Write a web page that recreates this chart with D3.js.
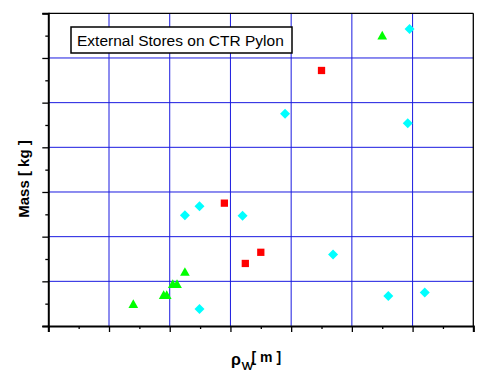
<!DOCTYPE html>
<html><head><meta charset="utf-8">
<script src="https://cdn.jsdelivr.net/npm/d3@7"></script>
<style>body{margin:0;background:#fff}svg{display:block}text{font-family:Arial,"Liberation Sans",sans-serif}</style>
</head><body>
<svg id="chart" width="478" height="371"></svg>
<script>
// Data (arbitrary axis units; axes carry no numeric labels)
const triX = [1.40, 1.90, 1.95, 2.05, 2.12, 2.25, 5.50];
const triY = [0.50, 0.70, 0.70, 0.95, 0.95, 1.22, 6.51];
const sqX = [4.50, 2.90, 3.50, 3.245];
const sqY = [5.72, 2.75, 1.65, 1.40];
const diaX = [5.95, 3.90, 5.92, 2.25, 2.49, 3.20, 2.49, 4.69, 5.60, 6.20];
const diaY = [6.65, 4.75, 4.54, 2.48, 2.68, 2.47, 0.38, 1.60, 0.67, 0.75];
const majorTicks = [0, 1, 2, 3, 4, 5, 6, 7];
const minorTicks = [0.5, 1.5, 2.5, 3.5, 4.5, 5.5, 6.5];
const legendText = "External Stores on CTR Pylon";

const svg = d3.select("#chart");
const x = d3.scaleLinear().domain([0, 7]).range([48.3, 473.3]);
const y = d3.scaleLinear().domain([0, 7]).range([326, 13.3]);

// grid
const grid = svg.append("g").attr("stroke", "#1a1ae0").attr("stroke-width", 1);
grid.selectAll(".gv").data(majorTicks.slice(1, -1)).join("line")
  .attr("x1", d => x(d)).attr("x2", d => x(d)).attr("y1", y(7)).attr("y2", y(0));
grid.selectAll(".gh").data(majorTicks.slice(1, -1)).join("line")
  .attr("y1", d => y(d)).attr("y2", d => y(d)).attr("x1", x(0)).attr("x2", x(7));

// frame top/right
svg.append("line").attr("x1", x(0)).attr("x2", x(7)).attr("y1", y(7)).attr("y2", y(7)).attr("stroke", "#000").attr("stroke-width", 1.3);
svg.append("line").attr("x1", x(7)).attr("x2", x(7)).attr("y1", y(7)).attr("y2", y(0)).attr("stroke", "#000").attr("stroke-width", 1.3);

// axes
const xMaj = d3.axisBottom(x).tickValues(majorTicks).tickSize(6).tickFormat("");
const xMin = d3.axisBottom(x).tickValues(minorTicks).tickSize(3).tickFormat("");
const yMaj = d3.axisLeft(y).tickValues(majorTicks).tickSize(6).tickFormat("");
const yMin = d3.axisLeft(y).tickValues(minorTicks).tickSize(3).tickFormat("");
function style(g){ g.selectAll("path").attr("stroke","#000").attr("stroke-width",2); g.selectAll("line").attr("stroke","#000").attr("stroke-width",1.3); }
svg.append("g").attr("transform", `translate(0,${y(0)})`).call(xMaj).call(style);
svg.append("g").attr("transform", `translate(0,${y(0)})`).call(xMin).call(g=>g.select("path").remove()).call(style);
svg.append("g").attr("transform", `translate(${x(0)},0)`).call(yMaj).call(style);
svg.append("g").attr("transform", `translate(${x(0)},0)`).call(yMin).call(g=>g.select("path").remove()).call(style);

// legend box
svg.append("rect").attr("x", 71).attr("y", 27).attr("width", 221).attr("height", 26)
  .attr("fill", "#fff").attr("stroke", "#000").attr("stroke-width", 1.5);
svg.append("text").attr("x", 77).attr("y", 46).attr("font-size", 15.5).attr("fill", "#000").text(legendText);

// markers
const diamond = {draw(ctx, s){ const r = Math.sqrt(s)/2; ctx.moveTo(0,-r); ctx.lineTo(r,0); ctx.lineTo(0,r); ctx.lineTo(-r,0); ctx.closePath(); }};
const tri = {draw(ctx, s){ const w = Math.sqrt(s)/2; ctx.moveTo(0,-w*0.9); ctx.lineTo(w,w*0.9); ctx.lineTo(-w,w*0.9); ctx.closePath(); }};
const sq = {draw(ctx, s){ const r = Math.sqrt(s)/2; ctx.rect(-r,-r,2*r,2*r); }};

svg.append("g").selectAll("path").data(diaX.map((d,i)=>[d,diaY[i]])).join("path")
  .attr("transform", d => `translate(${x(d[0])},${y(d[1])})`)
  .attr("d", d3.symbol().type(diamond).size(100)).attr("fill", "#00ffff");
svg.append("g").selectAll("path").data(sqX.map((d,i)=>[d,sqY[i]])).join("path")
  .attr("transform", d => `translate(${x(d[0])},${y(d[1])})`)
  .attr("d", d3.symbol().type(sq).size(53)).attr("fill", "#ff0000");
svg.append("g").selectAll("path").data(triX.map((d,i)=>[d,triY[i]])).join("path")
  .attr("transform", d => `translate(${x(d[0])},${y(d[1])})`)
  .attr("d", d3.symbol().type(tri).size(94)).attr("fill", "#00ff00");

// axis titles
svg.append("text").attr("transform", "translate(29,179) rotate(-90)").attr("text-anchor", "middle")
  .attr("font-size", 15).attr("font-weight", "bold").text("Mass [ kg ]");
const xt = svg.append("text").attr("font-weight", "bold");
xt.append("tspan").attr("x", 231).attr("y", 364.5).attr("font-size", 16).text("ρ");
xt.append("tspan").attr("x", 241.5).attr("y", 369.5).attr("font-size", 10.5).attr("letter-spacing", -2).text("VV");
xt.append("tspan").attr("x", 251.5).attr("y", 361.5).attr("font-size", 14).text("[ m ]");
</script>
</body></html>
